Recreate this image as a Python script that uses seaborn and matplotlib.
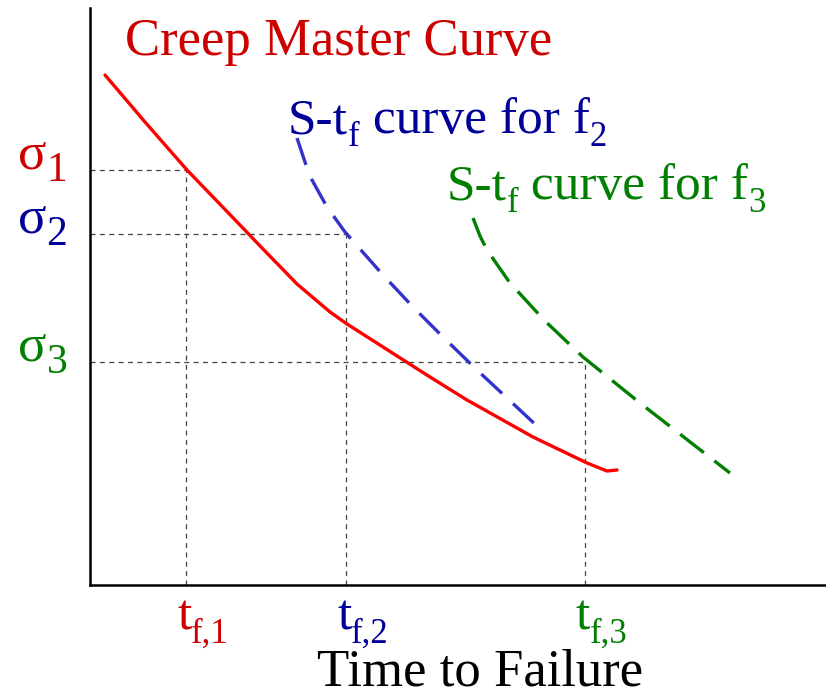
import matplotlib
matplotlib.use('Agg')
import matplotlib.pyplot as plt
import seaborn as sns
import pandas as pd

# Curve data (time to failure vs stress, schematic units)
master_t = [15, 55, 97, 150, 172, 207, 240, 257, 340, 377, 443, 497, 517, 527]
master_s = [510, 463, 415, 360, 337, 301, 273, 261, 208, 185, 148, 122, 114, 115]

f2_t = [207, 217, 222, 237, 255, 293, 323, 353, 387, 447]
f2_s = [447, 417, 405, 378, 353, 310, 278, 248, 215, 159]

f3_t = [383, 390, 397, 420, 455, 493, 550, 640]
f3_s = [367, 349, 335, 302, 264, 228, 182, 112]

# Reference stress levels and failure times
sigma_levels = [415, 351, 223]
tf_levels = [96, 256, 495]
sigma_subs = ['1', '2', '3']
tf_subs = ['f,1', 'f,2', 'f,3']
label_colors = ['#cc0000', '#000099', '#007f00']

sns.set_style('white')
plt.rcParams['font.family'] = ['Liberation Serif', 'DejaVu Serif']

fig = plt.figure(figsize=(8.26, 6.96), dpi=100)
ax = fig.add_axes([90 / 826, 111 / 696, 736 / 826, 577 / 696])

master = pd.DataFrame({'t': master_t, 's': master_s})
f2 = pd.DataFrame({'t': f2_t, 's': f2_s})
f3 = pd.DataFrame({'t': f3_t, 's': f3_s})

# guide lines
for s, t in zip(sigma_levels, tf_levels):
    ax.plot([0, t], [s, s], color='#444444', lw=0.9, linestyle=(0, (4, 3.5)))
    ax.plot([t, t], [0, s], color='#444444', lw=0.9, linestyle=(0, (4, 3.5)))

sns.lineplot(data=master, x='t', y='s', ax=ax, color='#ff0000', lw=2.4,
             sort=False, estimator=None)
sns.lineplot(data=f2, x='t', y='s', ax=ax, color='#3333cc', lw=2.4,
             sort=False, estimator=None, linestyle=(0, (8.5, 4.5)))
sns.lineplot(data=f3, x='t', y='s', ax=ax, color='#007f00', lw=2.4,
             sort=False, estimator=None, linestyle=(0, (9, 4)))

ax.set_xlim(0, 736)
ax.set_ylim(0, 577)
ax.set_xticks([])
ax.set_yticks([])
ax.set_xlabel('')
ax.set_ylabel('')
for side in ['top', 'right']:
    ax.spines[side].set_visible(False)
for side in ['left', 'bottom']:
    ax.spines[side].set_color('black')
    ax.spines[side].set_linewidth(1.8)


def sub_label(x, y, parts, color, fs, sub_fs, drop):
    # parts: list of (text, is_subscript); chained so each piece follows the last
    main = ax.text(x, y, parts[0][0], color=color, fontsize=fs, va='baseline')
    prev = main
    for s, is_sub in parts[1:]:
        prev = ax.annotate(s, xy=(1, 0), xycoords=(prev, main),
                           xytext=(0, -drop if is_sub else 0), textcoords='offset points',
                           va='bottom', ha='left', color=color,
                           fontsize=sub_fs if is_sub else fs)
    return main


fs = 38
ax.text(35, 530, 'Creep Master Curve', color='#cc0000', fontsize=fs, va='baseline')
sub_label(198, 452, [('S-t', False), ('f', True), (' curve for f', False), ('2', True)],
          '#000099', 37, 25, 7)
sub_label(357, 386, [('S-t', False), ('f', True), (' curve for f', False), ('3', True)],
          '#007f00', 37, 25, 7)

for s, sub, c in zip(sigma_levels, sigma_subs, label_colors):
    sub_label(-72, s + 2, [('σ', False), (sub, True)], c, 38, 30, 8)
for t, sub, c in zip(tf_levels, tf_subs, label_colors):
    sub_label(t - 9, -45, [('t', False), (sub, True)], c, 37, 25, 7)

ax.text(227, -101, 'Time to Failure', color='black', fontsize=38, va='baseline')

fig.savefig('out.png', dpi=100)
